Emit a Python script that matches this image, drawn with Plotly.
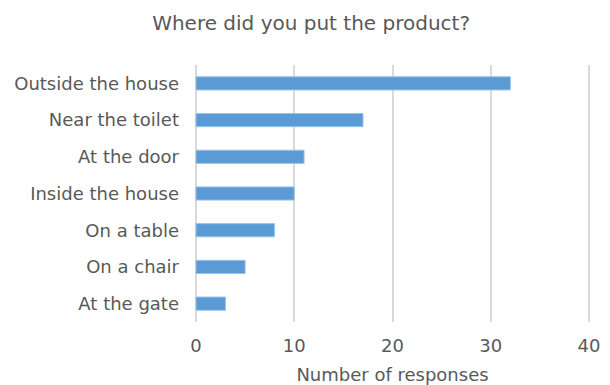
import plotly.graph_objects as go

# Survey answers, listed top to bottom as displayed
categories = ["Outside the house", "Near the toilet", "At the door", "Inside the house",
              "On a table", "On a chair", "At the gate"]
responses = [32, 17, 11, 10, 8, 5, 3]
tick_values = [0, 10, 20, 30, 40]

font_family = "DejaVu Sans, Verdana, sans-serif"
text_color = "#595959"

fig = go.Figure(
    go.Bar(
        x=responses,
        y=categories,
        orientation="h",
        width=0.36,
        marker=dict(color="#5B9BD5", line=dict(color="#9DC3E6", width=1)),
        hoverinfo="x+y",
    )
)

fig.update_layout(
    width=610,
    height=385,
    margin=dict(l=194, r=19, t=65, b=63),
    paper_bgcolor="white",
    plot_bgcolor="white",
    showlegend=False,
    title=dict(
        text="Where did you put the product?",
        x=0.51,
        xanchor="center",
        y=0.94,
        yanchor="middle",
        font=dict(family=font_family, size=20, color=text_color),
    ),
    font=dict(family=font_family, color=text_color),
)

fig.update_xaxes(
    range=[-0.2, 40.2],
    tickvals=tick_values,
    showgrid=True,
    gridcolor="#d9d9d9",
    gridwidth=1.5,
    zeroline=False,
    showline=False,
    ticks="",
    automargin=False,
    ticklabelstandoff=11,
    tickfont=dict(size=18, color=text_color),
    title=dict(text="Number of responses", font=dict(size=18, color=text_color), standoff=14),
)

fig.update_yaxes(
    categoryorder="array",
    categoryarray=categories[::-1],
    showgrid=False,
    zeroline=False,
    showline=False,
    ticks="",
    automargin=False,
    ticklabelstandoff=14,
    tickfont=dict(size=18, color=text_color),
)

fig.write_html("out.html")
